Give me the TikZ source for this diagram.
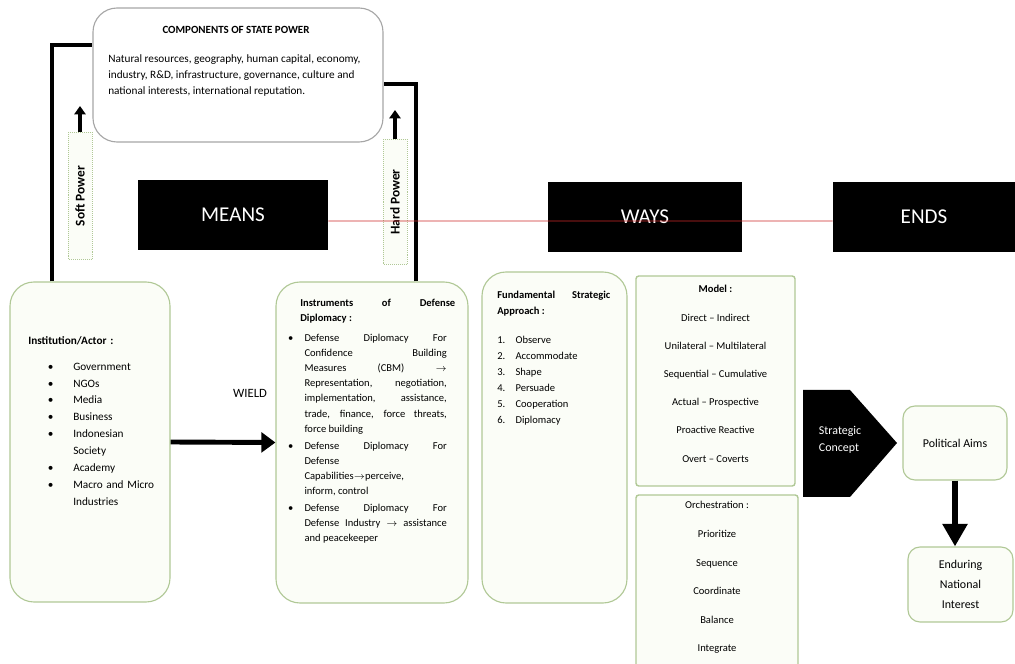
\documentclass[tikz,border=0pt]{standalone}
\usepackage{fontspec}
\setmainfont{Carlito}
\usepackage{enumitem}
\usetikzlibrary{arrows.meta, positioning}
\definecolor{boxline}{RGB}{176,200,150}
\definecolor{boxfill}{RGB}{251,253,247}
\definecolor{linkred}{RGB}{205,40,40}

\begin{document}
\begin{tikzpicture}[
        roundbox/.style={rectangle, rounded corners=0.6cm, draw=boxline, fill=boxfill, line width=0.8pt},
        squarebox/.style={rectangle, rounded corners=2pt, draw=boxline, fill=boxfill, line width=1pt},
        blackbox/.style={rectangle, fill=black, text=white, minimum height=1.75cm, font=\fontsize{15}{18}\selectfont},
        powerlabel/.style={rectangle, draw=boxline, densely dotted, fill=boxfill, rotate=90, minimum height=0.6cm, inner sep=1pt, font=\fontsize{9.5}{11}\selectfont\bfseries},
        bodytext/.style={anchor=north west, inner sep=0pt, align=justify, font=\fontsize{7.5}{10.7}\selectfont},
        listline/.style={anchor=base, font=\fontsize{7.5}{9}\selectfont},
        endbox/.style={rectangle, rounded corners=0.3cm, draw=boxline, fill=boxfill, line width=0.8pt, align=center, font=\fontsize{8.5}{14}\selectfont},
        boldline/.style={line width=3pt},
        uparrow/.style={-{Triangle[length=6pt, width=8pt]}, line width=2.5pt},
        bigarrow/.style={-{Triangle[length=10pt, width=14pt]}, line width=3.5pt}
    ]
        \useasboundingbox (0,0) rectangle (25.375,16.6);

        % Components of state power
        \node[rectangle, rounded corners=0.6cm, draw=gray!70, fill=white, line width=0.8pt, minimum width=7.25cm, minimum height=3.35cm] (comp) at (5.95,14.725) {};
        \node[font=\fontsize{7.8}{9}\selectfont\bfseries] (comptitle) at (5.9,15.85) {COMPONENTS OF STATE POWER};
        \node[bodytext, align=left, font=\fontsize{8}{11.4}\selectfont] (compbody) at (2.7,15.25) {Natural resources, geography, human capital, economy,\\ industry, R\&D, infrastructure, governance, culture and\\ national interests, international reputation.};

        % Thick frame lines
        \coordinate (ltop) at (1.3,15.475);
        \coordinate (rtop) at (10.4,14.5);

        % Institution / actor
        \node[roundbox, minimum width=4cm, minimum height=8cm] (inst) at (2.25,5.55) {};
        \node[bodytext, align=left, text width=3.6cm, font=\fontsize{8}{12}\selectfont] (insttext) at (0.7,8.2) {\raggedright\textbf{Institution/Actor :}
            \begin{itemize}[label=\textbullet, leftmargin=32pt, labelsep=14pt, topsep=6.5pt, partopsep=0pt, itemsep=0pt, parsep=0pt]
                \raggedright
                \item Government
                \item NGOs
                \item Media
                \item Business
                \item Indonesian\newline Society
                \item Academy
                \item Macro and Micro\newline Industries
            \end{itemize}};

        % Instruments of defense diplomacy
        \node[roundbox, minimum width=4.8cm, minimum height=8.025cm] (instr) at (9.3,5.5375) {};
        \node[bodytext, text width=3.875cm] (instrtext) at (7.5,9.12) {\textbf{Instruments of Defense\linebreak Diplomacy :}
            \begin{itemize}[label=\textbullet, leftmargin=3pt, rightmargin=6pt, labelsep=8pt, topsep=3.5pt, partopsep=0pt, itemsep=1.5pt, parsep=0pt]
                \item Defense Diplomacy For\linebreak Confidence Building\linebreak Measures (CBM) $\rightarrow$\linebreak Representation, negotiation,\linebreak implementation, assistance,\linebreak trade, finance, force threats,\linebreak force building
                \item Defense Diplomacy For\linebreak Defense\newline Capabilities$\rightarrow$perceive,\newline inform, control
                \item Defense Diplomacy For\linebreak Defense Industry $\rightarrow$ assistance\linebreak and peacekeeper
            \end{itemize}};

        % Frame lines and power labels
        \draw[boldline] (inst.north -| ltop) -- (ltop) -- (ltop -| comp.west);
        \draw[boldline] (instr.north -| rtop) -- (rtop) -- (rtop -| comp.east);
        \node[powerlabel, minimum width=3.175cm] (soft) at (2.0,11.7) {Soft Power};
        \node[powerlabel, minimum width=3.125cm] (hard) at (9.875,11.55) {Hard Power};
        \coordinate (softtip) at (2.0,13.95);
        \coordinate (hardtip) at (9.875,13.85);
        \draw[uparrow] (soft.east) -- (softtip);
        \draw[uparrow] (hard.east) -- (hardtip);

        % Means, ways, ends
        \node[blackbox, minimum width=4.75cm] (means) at (5.825,11.225) {MEANS};
        \node[blackbox, minimum width=4.85cm] (ways) at (16.125,11.175) {WAYS};
        \node[blackbox, minimum width=4.55cm] (ends) at (23.1,11.175) {ENDS};
        \draw[linkred, line width=0.6pt] ([yshift=-0.15cm]means.east) -- ([yshift=-0.1cm]ends.west);

        % Wield
        \node[font=\fontsize{9}{11}\selectfont] (wield) at (6.25,6.775) {WIELD};
        \draw[bigarrow] (inst.east) -- (instr.west);

        % Fundamental strategic approach
        \node[roundbox, minimum width=3.625cm, minimum height=8.275cm] (fund) at (13.8625,5.6625) {};
        \node[bodytext, text width=2.825cm, font=\fontsize{7.5}{11.4}\selectfont] (fundtext) at (12.425,9.33) {\textbf{Fundamental Strategic Approach :}
            \begin{enumerate}[label=\arabic*., align=left, labelwidth=8pt, labelsep=5pt, leftmargin=13pt, topsep=9pt, partopsep=0pt, itemsep=0pt, parsep=0pt]
                \item Observe
                \item Accommodate
                \item Shape
                \item Persuade
                \item Cooperation
                \item Diplomacy
            \end{enumerate}};

        % Model
        \node[squarebox, minimum width=3.975cm, minimum height=5.25cm] (model) at (17.8875,7.075) {};
        \node[listline, font=\fontsize{7.5}{9}\selectfont\bfseries] (model0) at (17.8875,9.275) {Model :};
        \foreach \txt [count=\i] in {Direct -- Indirect, Unilateral -- Multilateral, Sequential -- Cumulative, Actual -- Prospective, Proactive Reactive, Overt -- Coverts} {
            \node[listline] (model\i) at (17.8875,9.275-\i*0.705) {\txt};
        }

        % Orchestration
        \node[squarebox, minimum width=4.05cm, minimum height=4.4cm] (orch) at (17.925,2.025) {};
        \node[listline] (orch0) at (17.925,3.875) {Orchestration :};
        \foreach \txt [count=\i] in {Prioritize, Sequence, Coordinate, Balance, Integrate} {
            \node[listline] (orch\i) at (17.925,3.875-\i*0.715) {\txt};
        }

        % Strategic concept
        \fill[black] (20.075,6.85) -- (21.25,6.85) -- (22.425,5.525) -- (21.25,4.175) -- (20.075,4.175) -- cycle;
        \node[anchor=west, text=white, align=left, font=\fontsize{8.5}{12}\selectfont] (concept) at (20.35,5.6) {Strategic\\Concept};

        % Ends
        \node[endbox, minimum width=2.6cm, minimum height=1.85cm] (aims) at (23.875,5.525) {Political Aims};
        \node[endbox, minimum width=2.625cm, minimum height=1.875cm] (interest) at (24.0125,1.9875) {Enduring\\National\\Interest};
        \draw[-{Triangle[length=16pt, width=17pt]}, line width=4.5pt] (aims.south) -- (aims.south |- interest.north);
    \end{tikzpicture}
\end{document}
